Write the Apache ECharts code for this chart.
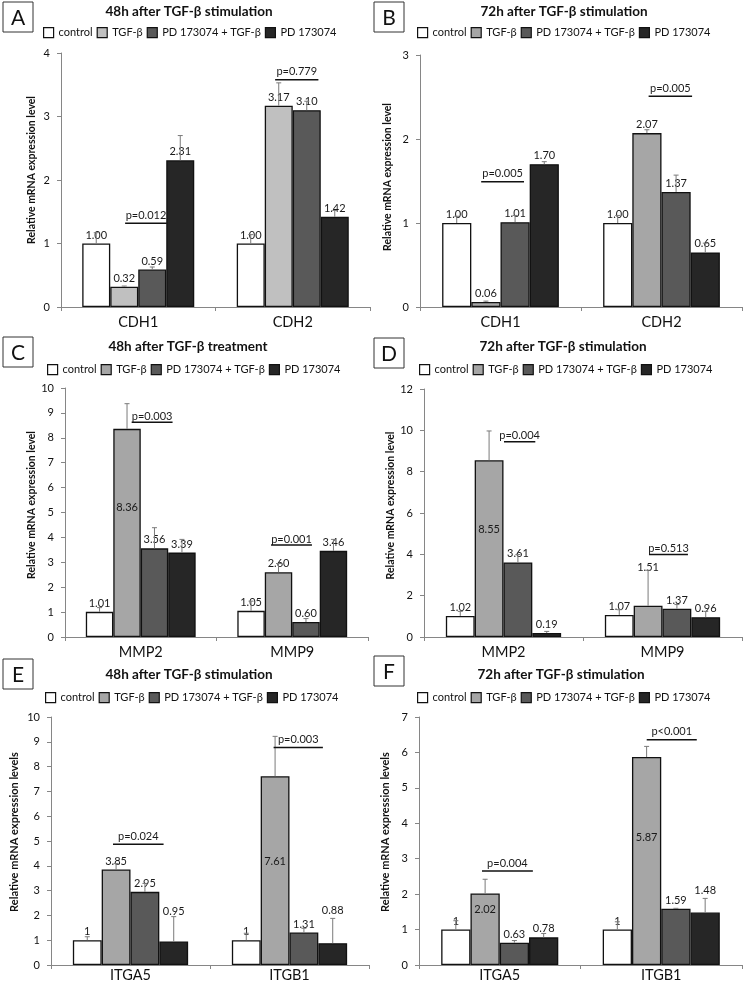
<!DOCTYPE html>
<html><head><meta charset="utf-8">
<script src="https://cdn.jsdelivr.net/npm/echarts@6/dist/echarts.min.js"></script>
<style>html,body{margin:0;padding:0;background:#fff}#c{width:745px;height:989px}</style>
</head><body><div id="c"></div>
<script>
// ---------------- DATA ----------------
const groups = ['control', 'TGF-β', 'PD 173074 + TGF-β', 'PD 173074'];
const catsCDH = ['CDH1', 'CDH2'];
const catsMMP = ['MMP2', 'MMP9'];
const catsITG = ['ITGA5', 'ITGB1'];

// Panel A
const titleA = '48h after TGF-β stimulation';
const valuesA = [[1.00, 1.00], [0.32, 3.17], [0.59, 3.10], [2.31, 1.42]];
const errorsA = [[0.17, 0.14], [0.01, 0.36], [0.04, 0.14], [0.39, 0.10]];
const pvalsA = [{ text: 'p=0.012', y: 1.32 }, { text: 'p=0.779', y: 3.58 }];
const yTicksA = { max: 4, interval: 1 };

// Panel B
const titleB = '72h after TGF-β stimulation';
const valuesB = [[1.00, 1.00], [0.06, 2.07], [1.01, 1.37], [1.70, 0.65]];
const errorsB = [[0.08, 0.09], [0.01, 0.04], [0.08, 0.20], [0.03, 0.11]];
const pvalsB = [{ text: 'p=0.005', y: 1.49 }, { text: 'p=0.005', y: 2.51 }];
const yTicksB = { max: 3, interval: 1 };

// Panel C
const titleC = '48h after TGF-β treatment';
const valuesC = [[1.01, 1.05], [8.36, 2.60], [3.56, 0.60], [3.39, 3.46]];
const errorsC = [[0.17, 0.39], [1.01, 0.35], [0.83, 0.14], [0.53, 0.46]];
const pvalsC = [{ text: 'p=0.003', y: 8.62 }, { text: 'p=0.001', y: 3.69 }];
const yTicksC = { max: 10, interval: 1 };

// Panel D
const titleD = '72h after TGF-β stimulation';
const valuesD = [[1.02, 1.07], [8.55, 1.51], [3.61, 1.37], [0.19, 0.96]];
const errorsD = [[0.22, 0.25], [1.42, 1.72], [0.38, 0.20], [0.08, 0.28]];
const pvalsD = [{ text: 'p=0.004', y: 9.45 }, { text: 'p=0.513', y: 3.99 }];
const yTicksD = { max: 12, interval: 2 };

// Panel E
const titleE = '48h after TGF-β stimulation';
const valuesE = [[1, 1], [3.85, 7.61], [2.95, 1.31], [0.95, 0.88]];
const errorsE = [[0.14, 0.28], [0.24, 1.61], [0.34, 0.17], [1.00, 1.00]];
const pvalsE = [{ text: 'p=0.024', y: 4.87 }, { text: 'p=0.003', y: 8.77 }];
const yTicksE = { max: 10, interval: 1 };

// Panel F
const titleF = '72h after TGF-β stimulation';
const valuesF = [[1, 1], [2.02, 5.87], [0.63, 1.59], [0.78, 1.48]];
const errorsF = [[0.25, 0.22], [0.40, 0.30], [0.06, 0.01], [0.11, 0.40]];
const pvalsF = [{ text: 'p=0.004', y: 2.65 }, { text: 'p<0.001', y: 6.36 }];
const yTicksF = { max: 7, interval: 1 };

const yNameLevel = 'Relative mRNA expression level';
const yNameLevels = 'Relative mRNA expression levels';

// ---------------- LAYOUT / STYLE ----------------
const FONT = 'Lato, "Open Sans", sans-serif';
const GAP = 0.275;
const colors = ['#ffffff', '#a6a6a6', '#595959', '#262626'];

const panels = [
  { id: 'A', title: titleA, cats: catsCDH, values: valuesA, errors: errorsA, pvals: pvalsA, y: yTicksA, yName: yNameLevel, fmt: 'fixed',
    grid: { left: 61, top: 53, width: 309, height: 254 }, titleXY: [189, 12], legendXY: [43, 27], letterXY: [3, 2],
    nameGap: 24, nameShift: 20, nameSize: 10.5, catMargin: 8, tgf: '#c0c0c0', pGap: 8,
    brackets: [[0.415, 0.685], [1.386, 1.666]], inside: {}, lift: {} },
  { id: 'B', title: titleB, cats: catsCDH, values: valuesB, errors: errorsB, pvals: pvalsB, y: yTicksB, yName: yNameLevel, fmt: 'fixed',
    grid: { left: 420, top: 55, width: 322, height: 252 }, titleXY: [564, 12], legendXY: [417, 27], letterXY: [374, 2],
    nameGap: 27, nameShift: 8, nameSize: 10.5, catMargin: 8, tgf: '#a6a6a6', pGap: 8,
    brackets: [[0.38, 0.646], [1.42, 1.69]], inside: {}, lift: {} },
  { id: 'C', title: titleC, cats: catsMMP, values: valuesC, errors: errorsC, pvals: pvalsC, y: yTicksC, yName: yNameLevel, fmt: 'fixed',
    grid: { left: 65, top: 388, width: 303, height: 249 }, titleXY: [188, 347], legendXY: [47, 364], letterXY: [3, 337],
    nameGap: 24, nameShift: 15, nameSize: 10.5, catMargin: 8, tgf: '#a6a6a6', pGap: 6,
    brackets: [[0.44, 0.71], [1.36, 1.63]], inside: { '1-0': '37.6%' }, lift: {} },
  { id: 'D', title: titleD, cats: catsMMP, values: valuesD, errors: errorsD, pvals: pvalsD, y: yTicksD, yName: yNameLevel, fmt: 'fixed',
    grid: { left: 424, top: 389, width: 318, height: 248 }, titleXY: [563, 347], legendXY: [419, 364], letterXY: [374, 338],
    nameGap: 28, nameShift: 15, nameSize: 10.5, catMargin: 8, tgf: '#a6a6a6', pGap: 6,
    brackets: [[0.503, 0.70], [1.415, 1.66]], inside: { '1-0': '39%' }, lift: { '1-1': -3 } },
  { id: 'E', title: titleE, cats: catsITG, values: valuesE, errors: errorsE, pvals: pvalsE, y: yTicksE, yName: yNameLevels, fmt: 'plain',
    grid: { left: 51, top: 717, width: 318, height: 248 }, titleXY: [189, 675], legendXY: [45, 692], letterXY: [3, 659],
    nameGap: 31, nameShift: 18, nameSize: 11, catMargin: 3, tgf: '#a6a6a6', pGap: 8,
    brackets: [[0.39, 0.708], [1.40, 1.71]], inside: { '1-1': '45%' }, lift: { '3-0': 0, '3-1': 2 } },
  { id: 'F', title: titleF, cats: catsITG, values: valuesF, errors: errorsF, pvals: pvalsF, y: yTicksF, yName: yNameLevels, fmt: 'plain',
    grid: { left: 419, top: 717, width: 323, height: 248 }, titleXY: [561, 675], legendXY: [417, 692], letterXY: [374, 656],
    nameGap: 28, nameShift: 18, nameSize: 11, catMargin: 3, tgf: '#a6a6a6', pGap: 8,
    brackets: [[0.39, 0.705], [1.41, 1.72]], inside: { '1-1': '38.5%', '1-0': '23%' }, lift: { '3-1': 2 } }
];

const option = {
  animation: false,
  backgroundColor: '#fff',
  textStyle: { fontFamily: FONT },
  grid: [], xAxis: [], yAxis: [], legend: [], series: [], graphic: []
};

panels.forEach((p, k) => {
  const pal = [colors[0], p.tgf, colors[2], colors[3]];
  option.grid.push(Object.assign({ containLabel: false }, p.grid));
  option.xAxis.push({
    type: 'category', gridIndex: k, data: p.cats,
    axisLine: { lineStyle: { color: '#868686', width: 1 } },
    axisTick: { show: true, length: 4, lineStyle: { color: '#868686' } },
    axisLabel: { margin: p.catMargin, fontSize: 14.5, color: '#111', fontFamily: FONT }
  });
  option.xAxis.push({ type: 'value', gridIndex: k, min: 0, max: 2, show: false });
  option.yAxis.push({
    type: 'value', gridIndex: k, min: 0, max: p.y.max, interval: p.y.interval,
    axisLine: { show: true, lineStyle: { color: '#868686', width: 1 } },
    axisTick: { show: true, length: 4, lineStyle: { color: '#868686' } },
    splitLine: { show: false },
    axisLabel: { margin: 11, fontSize: 11, color: '#111', fontFamily: FONT },
    name: p.yName, nameLocation: 'middle', nameGap: p.nameGap,
    nameTextStyle: { fontSize: p.nameSize, fontWeight: 'bold', color: '#111', fontFamily: FONT, padding: [0, 0, 0, p.nameShift] }
  });
  option.legend.push({
    left: p.legendXY[0], top: p.legendXY[1], padding: 0, itemGap: 4, itemWidth: 10, itemHeight: 10,
    icon: 'rect', selectedMode: false,
    textStyle: { fontSize: 11, color: '#111', fontFamily: FONT },
    data: groups.map((g, s) => ({ name: g, itemStyle: { color: pal[s], borderColor: '#111', borderWidth: 1.2 } }))
  });
  const pxPerUnit = p.grid.height / p.y.max;
  groups.forEach((g, s) => {
    option.series.push({
      type: 'bar', name: g, xAxisIndex: 2 * k, yAxisIndex: k,
      barGap: '0%', barCategoryGap: (GAP * 100) + '%',
      itemStyle: { color: pal[s], borderColor: '#111', borderWidth: 1.3 },
      label: {
        show: true, position: 'top', distance: 3, fontSize: 11, color: '#1a1a1a', fontFamily: FONT,
        formatter: (d) => p.fmt === 'fixed' ? d.value.toFixed(2) : String(d.value)
      },
      data: p.values[s].map((v, i) => {
        const key = s + '-' + i;
        const item = { value: v };
        if (p.inside[key]) {
          item.label = { position: ['50%', p.inside[key]], align: 'center', verticalAlign: 'middle' };
        } else if (p.lift[key] !== undefined) {
          item.label = { distance: p.errors[s][i] * pxPerUnit + p.lift[key] };
        }
        return item;
      })
    });
    option.series.push({
      type: 'custom', name: 'err-' + p.id + s, xAxisIndex: 2 * k, yAxisIndex: k, silent: true, z: 3,
      data: p.values[s].map((v, i) => [i, v + p.errors[s][i], v]),
      renderItem: (params, api) => {
        const ci = api.value(0), top = api.value(1), base = api.value(2);
        const band = api.size([1, 0])[0];
        const bw = band * (1 - GAP) / 4;
        const c = api.coord([ci, base]);
        const t = api.coord([ci, top]);
        const x = c[0] + (s - 1.5) * bw;
        const st = { stroke: '#7a7a7a', lineWidth: 1 };
        return { type: 'group', children: [
          { type: 'line', shape: { x1: x, y1: c[1], x2: x, y2: t[1] }, style: st },
          { type: 'line', shape: { x1: x - 2.5, y1: t[1], x2: x + 2.5, y2: t[1] }, style: st }
        ] };
      }
    });
  });
  option.series.push({
    type: 'custom', name: 'p-' + p.id, xAxisIndex: 2 * k + 1, yAxisIndex: k, silent: true, z: 4,
    data: p.pvals.map((q, i) => [p.brackets[i][0], p.brackets[i][1], q.y]),
    renderItem: (params, api) => {
      const a = api.coord([api.value(0), api.value(2)]);
      const b = api.coord([api.value(1), api.value(2)]);
      return { type: 'group', children: [
        { type: 'line', shape: { x1: a[0], y1: a[1], x2: b[0], y2: b[1] }, style: { stroke: '#111', lineWidth: 1.5 } },
        { type: 'text', style: { text: p.pvals[params.dataIndex].text, x: (a[0] + b[0]) / 2, y: a[1] - p.pGap,
          align: 'center', verticalAlign: 'middle', fill: '#1a1a1a', font: '11px ' + FONT } }
      ] };
    }
  });
  // title and panel letter
  option.graphic.push({
    type: 'text', x: p.titleXY[0], y: p.titleXY[1],
    style: { text: p.title, align: 'center', verticalAlign: 'middle', fill: '#111', font: 'bold 13.5px ' + FONT }
  });
  option.graphic.push({
    type: 'rect', x: p.letterXY[0], y: p.letterXY[1], shape: { width: 30, height: 30 },
    style: { fill: '#fff', stroke: '#333', lineWidth: 1 }
  });
  option.graphic.push({
    type: 'text', x: p.letterXY[0] + 15, y: p.letterXY[1] + 16,
    style: { text: p.id, align: 'center', verticalAlign: 'middle', fill: '#111', font: '21px ' + FONT }
  });
});

const chart = echarts.init(document.getElementById('c'), null, { renderer: 'canvas' });
chart.setOption(option);
</script></body></html>
